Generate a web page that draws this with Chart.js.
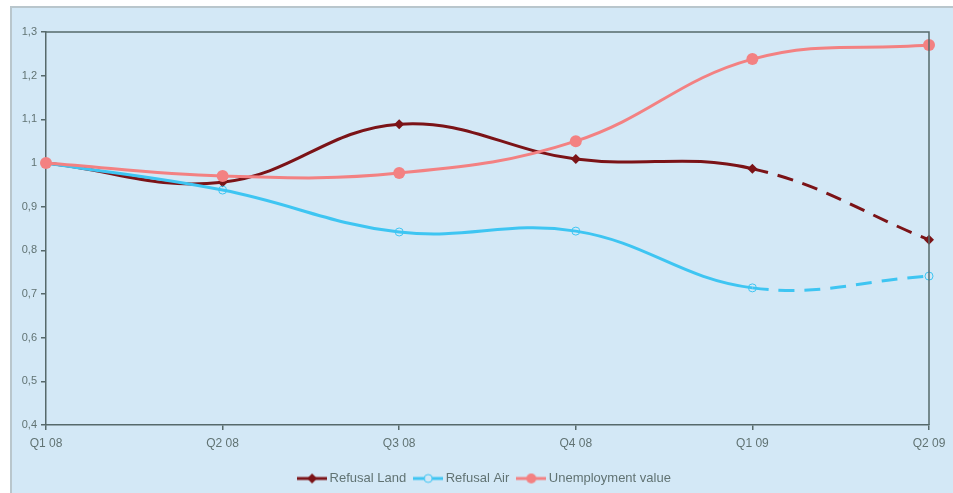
<!DOCTYPE html>
<html>
<head>
<meta charset="utf-8">
<script src="https://cdn.jsdelivr.net/npm/chart.js@4"></script>
<style>
  html, body { margin: 0; padding: 0; background: #ffffff; }
  #wrap {
    position: absolute; left: 10px; top: 6px; width: 941px; height: 487px;
    background: #d3e8f6; border-left: 2px solid #b9c6cc; border-top: 2px solid #b9c6cc;
  }
  canvas { display: block; }
</style>
</head>
<body>
<div id="wrap"><canvas id="c" width="941" height="487"></canvas></div>
<script>
// Quarters on the x axis
const categories = ['Q1 08', 'Q2 08', 'Q3 08', 'Q4 08', 'Q1 09', 'Q2 09'];
// Index values (Q1 08 = 1)
const refusalLand = [1.0, 0.956, 1.089, 1.009, 0.987, 0.824];
const refusalAir = [1.0, 0.938, 0.842, 0.844, 0.714, 0.741];
const unemployment = [1.0, 0.970, 0.977, 1.050, 1.238, 1.270];
// Y axis tick labels, from 0.4 to 1.3
const yTickLabels = ['0,4', '0,5', '0,6', '0,7', '0,8', '0,9', '1', '1,1', '1,2', '1,3'];

const axisColor = '#56696b';
const textColor = '#617373';

// the last quarter is shown dashed
const dashLast = { borderDash: ctx => ctx.p1DataIndex === categories.length - 1 ? [16, 10] : undefined };

// legend swatch: short line with the series marker on it
function swatch(color, marker) {
  const c = document.createElement('canvas');
  c.width = 30; c.height = 12;
  const g = c.getContext('2d');
  g.strokeStyle = color; g.lineWidth = 3;
  g.beginPath(); g.moveTo(0, 6); g.lineTo(30, 6); g.stroke();
  if (marker === 'diamond') {
    g.fillStyle = color;
    g.beginPath(); g.moveTo(15, 1); g.lineTo(20, 6); g.lineTo(15, 11); g.lineTo(10, 6); g.closePath(); g.fill();
  } else if (marker === 'ring') {
    g.fillStyle = '#d3e8f6';
    g.beginPath(); g.arc(15, 6, 4, 0, Math.PI * 2); g.fill();
    g.lineWidth = 1; g.beginPath(); g.arc(15, 6, 4, 0, Math.PI * 2); g.stroke();
  } else {
    g.fillStyle = color;
    g.beginPath(); g.arc(15, 6, 5, 0, Math.PI * 2); g.fill();
  }
  return c;
}

const frame = {
  id: 'frame',
  afterDatasetsDraw(chart) {
    const a = chart.chartArea, g = chart.ctx;
    g.save();
    g.strokeStyle = axisColor; g.lineWidth = 1.5;
    g.beginPath();
    g.moveTo(a.left, a.top); g.lineTo(a.right, a.top); g.lineTo(a.right, a.bottom);
    g.stroke();
    g.restore();
  }
};

const series = [
  { label: 'Refusal Land', data: refusalLand, color: '#7b1317', marker: 'diamond' },
  { label: 'Refusal Air', data: refusalAir, color: '#3ec5f2', marker: 'ring' },
  { label: 'Unemployment value', data: unemployment, color: '#f38182', marker: 'dot' }
];

new Chart(document.getElementById('c'), {
  type: 'line',
  data: {
    labels: categories,
    datasets: series.map((s, i) => ({
      label: s.label,
      data: s.data,
      borderColor: s.color,
      backgroundColor: s.marker === 'ring' ? 'rgba(0,0,0,0)' : s.color,
      borderWidth: 3,
      tension: 0.4,
      pointStyle: s.marker === 'diamond' ? 'rectRot' : 'circle',
      pointRadius: s.marker === 'dot' ? 6 : (s.marker === 'diamond' ? 5 : 4),
      pointBorderWidth: s.marker === 'ring' ? 1 : 0,
      pointBorderColor: s.color,
      pointBackgroundColor: s.marker === 'ring' ? 'rgba(0,0,0,0)' : s.color,
      segment: i < 2 ? dashLast : undefined,
      order: 2 - i
    }))
  },
  options: {
    responsive: false,
    animation: false,
    layout: { padding: { left: 7, right: 0, top: 24, bottom: 0 } },
    scales: {
      x: {
        offset: false,
        grid: { display: true, drawOnChartArea: false, drawTicks: true, tickLength: 5, color: axisColor, lineWidth: 1.5 },
        border: { display: true, color: axisColor, width: 1.5 },
        ticks: { color: textColor, font: { family: 'Liberation Sans', size: 12 }, padding: 6, maxRotation: 0 },
        afterFit: s => { s.height = 36; }
      },
      y: {
        min: 0.4, max: 1.3,
        grid: { display: true, drawOnChartArea: false, drawTicks: true, tickLength: 5, color: axisColor, lineWidth: 1.5 },
        border: { display: true, color: axisColor, width: 1.5 },
        ticks: {
          stepSize: 0.1, color: textColor, padding: 4,
          font: { family: 'Liberation Sans', size: 11 },
          callback: (v, i) => yTickLabels[i]
        },
        afterFit: s => { s.width = 27; }
      },
      // empty right-hand gutter so the legend stays centred on the panel
      gutter: {
        type: 'linear', position: 'right', min: 0, max: 1,
        grid: { display: false }, border: { display: false }, ticks: { display: false },
        afterFit: s => { s.width = 24; }
      }
    },
    plugins: {
      legend: {
        position: 'bottom',
        labels: {
          usePointStyle: true,
          pointStyleWidth: 22,
          color: textColor,
          font: { family: 'Liberation Sans', size: 13 },
          boxHeight: 12, padding: 11,
          generateLabels: chart => series.map((s, i) => ({
            text: s.label,
            pointStyle: swatch(s.color, s.marker),
            fontColor: textColor,
            datasetIndex: i,
            hidden: false,
            lineWidth: 0,
            strokeStyle: 'rgba(0,0,0,0)',
            fillStyle: 'rgba(0,0,0,0)'
          }))
        }
      },
      tooltip: { enabled: false }
    }
  },
  plugins: [frame]
});
</script>
</body>
</html>
